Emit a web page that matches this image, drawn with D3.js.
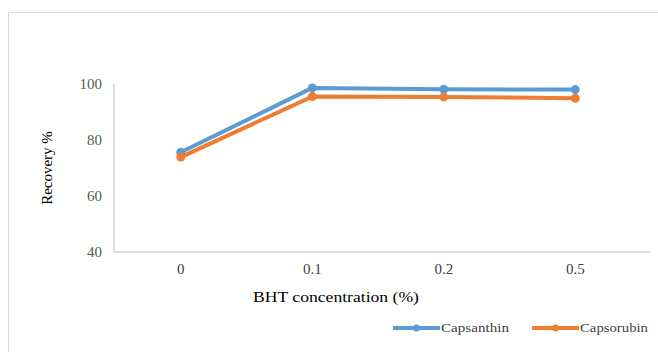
<!DOCTYPE html>
<html>
<head>
<meta charset="utf-8">
<script src="https://cdn.jsdelivr.net/npm/d3@7"></script>
<style>
  html, body { margin: 0; padding: 0; background: #fff; }
  svg { display: block; font-family: "Liberation Serif", "DejaVu Serif", serif; }
  svg text { font-family: "Liberation Serif", "DejaVu Serif", serif; }
</style>
</head>
<body>
<svg id="chart" width="658" height="352"></svg>
<script>
// Recovery of capsanthin and capsorubin at different BHT concentrations
const categories = ["0", "0.1", "0.2", "0.5"];
const capsanthin = [75.6, 98.6, 98.1, 98.0];
const capsorubin = [73.9, 95.5, 95.4, 94.9];
const yTicks = [40, 60, 80, 100];
const seriesNames = ["Capsanthin", "Capsorubin"];
const seriesColors = ["#5b9bd5", "#ed7d31"];

const svg = d3.select("#chart");
const serif = "Liberation Serif, DejaVu Serif, serif";

// outer frame
svg.append("rect")
  .attr("x", 8.5).attr("y", 12.5)
  .attr("width", 680).attr("height", 380)
  .attr("fill", "#fff")
  .attr("stroke", "#d9d9d9").attr("stroke-width", 1);

const plot = { left: 114, right: 641, top: 84, bottom: 252, axisEnd: 650 };

const x = d3.scaleBand()
  .domain(categories)
  .range([plot.left + 1, plot.right]);

const y = d3.scaleLinear()
  .domain([40, 100])
  .range([plot.bottom, plot.top]);

// axis lines
svg.append("line")
  .attr("x1", plot.left).attr("x2", plot.axisEnd)
  .attr("y1", plot.bottom).attr("y2", plot.bottom)
  .attr("stroke", "#d0d0d0").attr("stroke-width", 1.5);
svg.append("line")
  .attr("x1", plot.left).attr("x2", plot.left)
  .attr("y1", plot.top).attr("y2", plot.bottom)
  .attr("stroke", "#d0d0d0").attr("stroke-width", 1.5);

// axes (labels only)
const xAxis = svg.append("g")
  .attr("transform", `translate(0,${plot.bottom})`)
  .call(d3.axisBottom(x).tickSize(0).tickPadding(11));
xAxis.select(".domain").remove();
xAxis.selectAll("text")
  .style("font-family", serif).style("font-size", "15px").attr("fill", "#404040");

const yAxis = svg.append("g")
  .attr("transform", `translate(${plot.left},0)`)
  .call(d3.axisLeft(y).tickValues(yTicks).tickSize(0).tickPadding(12));
yAxis.select(".domain").remove();
yAxis.selectAll("text")
  .style("font-family", serif).style("font-size", "15px").attr("fill", "#595959");

// axis titles
svg.append("text")
  .attr("transform", `translate(52,${(plot.top + plot.bottom) / 2}) rotate(-90)`)
  .attr("text-anchor", "middle")
  .style("font-family", serif).style("font-size", "15px").attr("fill", "#000")
  .text("Recovery %");

svg.append("text")
  .attr("x", 336).attr("y", 302)
  .attr("text-anchor", "middle")
  .attr("textLength", 166).attr("lengthAdjust", "spacingAndGlyphs")
  .style("font-family", serif).style("font-size", "15.5px").attr("fill", "#000")
  .text("BHT concentration (%)");

// series
const series = [capsanthin, capsorubin];
const cx = c => x(c) + x.bandwidth() / 2;
const line = d3.line()
  .x((d, i) => cx(categories[i]))
  .y(d => y(d));

series.forEach((vals, s) => {
  svg.append("path")
    .datum(vals)
    .attr("d", line)
    .attr("fill", "none")
    .attr("stroke", seriesColors[s])
    .attr("stroke-width", 4)
    .attr("stroke-linejoin", "round");
  svg.selectAll(null)
    .data(vals)
    .enter().append("circle")
    .attr("cx", (d, i) => cx(categories[i]))
    .attr("cy", d => y(d))
    .attr("r", 4.5)
    .attr("fill", seriesColors[s]);
});

// legend
const legendItems = [
  { name: seriesNames[0], color: seriesColors[0], x: 393 },
  { name: seriesNames[1], color: seriesColors[1], x: 532 }
];
const lg = svg.append("g");
legendItems.forEach(it => {
  lg.append("line")
    .attr("x1", it.x).attr("x2", it.x + 47)
    .attr("y1", 328).attr("y2", 328)
    .attr("stroke", it.color).attr("stroke-width", 4);
  lg.append("circle")
    .attr("cx", it.x + 23.5).attr("cy", 328).attr("r", 3.5)
    .attr("fill", it.color);
  lg.append("text")
    .attr("x", it.x + 48).attr("y", 332)
    .attr("textLength", 68).attr("lengthAdjust", "spacingAndGlyphs")
    .style("font-family", serif).style("font-size", "12.5px").attr("fill", "#404040")
    .text(it.name);
});
</script>
</body>
</html>
